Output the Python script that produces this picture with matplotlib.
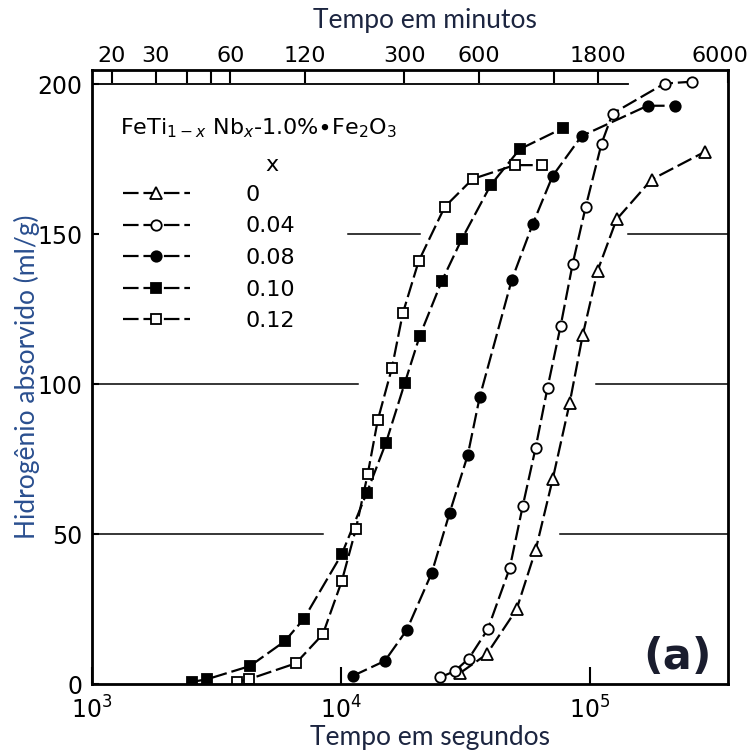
import numpy as np
import matplotlib.pyplot as plt
import matplotlib.transforms as mtransforms

# tempo (s) e hidrogênio absorvido (ml/g), para cada x
t_000 = [30060, 38560, 50880, 60700, 71020, 83110, 93800, 107700, 128300, 177500, 289800]
h_000 = [3.6, 9.9, 24.9, 44.7, 68.2, 93.6, 116.3, 137.8, 154.9, 168.2, 177.4]

t_004 = [25000, 28720, 32690, 38940, 47730, 53840, 60700, 67750, 76480, 85450, 96440,
         111700, 123700, 200000, 256800]
h_004 = [2.2, 4.3, 8.5, 18.2, 38.6, 59.3, 78.8, 98.8, 119.4, 140.0, 159.1,
         180.2, 190.2, 200.2, 200.8]

t_008 = [11170, 15030, 18410, 23190, 27390, 32370, 36170, 48630, 59040, 71020, 92850,
         170900, 219400]
h_008 = [2.7, 7.7, 18.0, 37.0, 57.1, 76.3, 95.7, 134.7, 153.3, 169.4, 182.7,
         192.8, 192.8]

t_010 = [2520, 2900, 4315, 5960, 7100, 10090, 12710, 15170, 18070, 20750, 25450,
         30620, 40010, 52330, 77940]
h_010 = [0.7, 1.6, 6.0, 14.3, 21.7, 43.3, 63.7, 80.3, 100.3, 116.0, 134.3,
         148.3, 166.3, 178.3, 185.3]

t_012 = [3820, 4270, 6590, 8470, 10090, 11490, 12830, 14080, 16030, 17750, 20560,
         26170, 33900, 50000, 64120]
h_012 = [0.7, 1.6, 6.9, 16.6, 34.3, 51.6, 70.0, 88.0, 105.2, 123.6, 141.0,
         159.1, 168.4, 173.0, 173.0]

x_labels = ['0', '0.04', '0.08', '0.10', '0.12']

min_ticks = [20, 30, 40, 50, 60, 120, 300, 600, 1200, 1800, 6000]
min_labels = ['20', '30', '', '', '60', '120', '300', '600', '', '1800', '6000']

y_ticks = [0, 50, 100, 150, 200]

fig = plt.figure(figsize=(7.51, 7.54), dpi=100)
ax = fig.add_axes([0.1225, 0.0928, 0.8469, 0.8143])

series = [(t_000, h_000, '^', 'white'),
          (t_004, h_004, 'o', 'white'),
          (t_008, h_008, 'o', 'black'),
          (t_010, h_010, 's', 'black'),
          (t_012, h_012, 's', 'white')]

handles = []
for (t, h, mk, fc), lab in zip(series, x_labels):
    ln, = ax.plot(t, h, color='black', lw=1.6, dashes=(7, 2.2), marker=mk,
                  ms=7.5 if mk != '^' else 8.5, mfc=fc, mec='black', mew=1.3,
                  label=lab)
    handles.append(ln)

ax.set_xscale('log')
ax.set_xlim(1000, 360000)
ax.set_ylim(0, 204.7)

# linhas horizontais interrompidas do original
ax.axhline(200, xmin=0, xmax=0.843, color='black', lw=1.3)
ax.axhline(150, xmin=0.403, xmax=0.516, color='black', lw=1.1)
ax.axhline(150, xmin=0.843, xmax=1, color='black', lw=1.1)
ax.axhline(100, xmin=0, xmax=0.418, color='black', lw=1.1)
ax.axhline(100, xmin=0.792, xmax=1, color='black', lw=1.1)
ax.axhline(50, xmin=0, xmax=0.363, color='black', lw=1.1)
ax.axhline(50, xmin=0.736, xmax=1, color='black', lw=1.1)

for s in ax.spines.values():
    s.set_linewidth(2)

ax.set_yticks(y_ticks)
ax.set_xticks([1e3, 1e4, 1e5])
ax.set_xticklabels(['$10^3$', '$10^4$', '$10^5$'])
ax.xaxis.set_minor_locator(plt.NullLocator())
ax.tick_params(axis='y', direction='in', length=5, width=1.5, labelsize=17, pad=7)
ax.tick_params(axis='x', direction='in', length=12, width=1.5, labelsize=17, pad=9)

ax2 = ax.twiny()
ax2.set_xscale('log')
ax2.set_xlim(ax.get_xlim())
ax2.set_xticks([m * 60 for m in min_ticks])
ax2.set_xticklabels(min_labels)
ax2.xaxis.set_minor_locator(plt.NullLocator())
ax2.tick_params(axis='x', direction='in', length=9, width=1.5, labelsize=16, pad=3)
last = ax2.get_xticklabels()[-1]
last.set_transform(last.get_transform() +
                   mtransforms.ScaledTranslation(-0.08, 0, fig.dpi_scale_trans))

ax2.set_xlabel('Tempo em minutos', fontsize=19, family='Lato', color='#1c2540')
ax2.xaxis.set_label_coords(0.524, 1.068)
ax.set_xlabel('Tempo em segundos', fontsize=19, family='Lato', color='#1c2540')
ax.xaxis.set_label_coords(0.532, -0.066)
ax.set_ylabel('Hidrogênio absorvido (ml/g)', fontsize=19, family='Lato', color='#2a4f8f',
              labelpad=-2)

ax.text(0.044, 0.905, 'FeTi$_{1-x}$ Nb$_x$-1.0%$\\bullet$Fe$_2$O$_3$', transform=ax.transAxes,
        fontsize=16, ha='left', va='center')
ax.text(0.283, 0.845, 'x', transform=ax.transAxes, fontsize=16, ha='center', va='center')

leg = ax.legend(handles=handles, loc='upper left', bbox_to_anchor=(0.049, 0.813),
                frameon=False, fontsize=16, borderpad=0,
                handlelength=3.0, handletextpad=2.5, labelspacing=0.52,
                borderaxespad=0)

ax.text(0.975, 0.01, '(a)', transform=ax.transAxes, ha='right', va='bottom',
        fontsize=31, fontweight='bold', family='DejaVu Sans', color='#1a1d2e')

fig.savefig('out.png', dpi=100)
